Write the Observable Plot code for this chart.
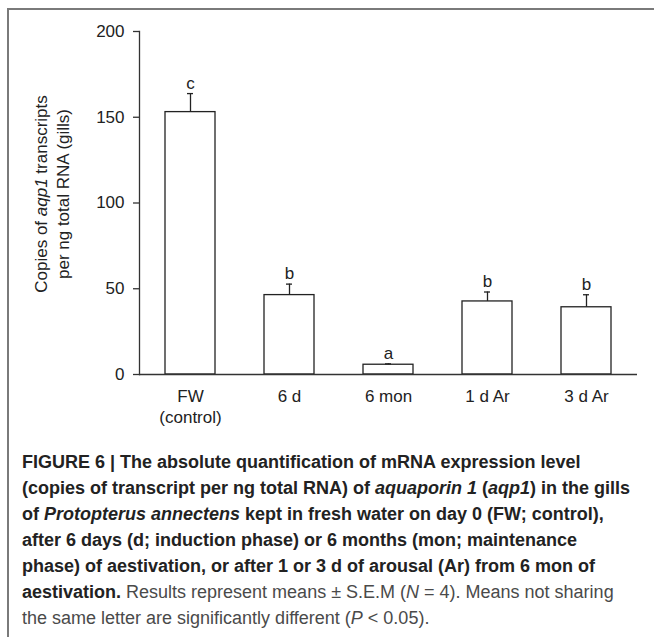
<!DOCTYPE html>
<html>
<head>
<meta charset="utf-8">
<script src="https://cdn.jsdelivr.net/npm/d3@7"></script>
<script src="https://cdn.jsdelivr.net/npm/@observablehq/plot@0.6"></script>
<style>
  html, body { margin: 0; padding: 0; background: #fff; }
  body { width: 654px; height: 637px; position: relative; overflow: hidden; font-family: "Liberation Sans", Arial, Helvetica, sans-serif; }
  #border { position: absolute; left: 7px; top: 8px; width: 660px; height: 640px; border-left: 2px solid #7a7a7a; border-top: 2px solid #7a7a7a; box-sizing: border-box; }
  #chart { position: absolute; left: 0; top: 0; }
  #caption { position: absolute; left: 22px; top: 449px; font-size: 18px; line-height: 26px; color: #4a4a4a; }
  #caption div { white-space: nowrap; }
  #caption b { color: #222; }
</style>
</head>
<body>
<div id="border"></div>
<div id="chart"></div>
<div id="caption">
<div><b>FIGURE 6 | The absolute quantification of mRNA expression level</b></div>
<div><b>(copies of transcript per ng total RNA) of <i>aquaporin 1</i> (<i>aqp1</i>) in the gills</b></div>
<div><b>of <i>Protopterus annectens</i> kept in fresh water on day 0 (FW; control),</b></div>
<div><b>after 6 days (d; induction phase) or 6 months (mon; maintenance</b></div>
<div><b>phase) of aestivation, or after 1 or 3 d of arousal (Ar) from 6 mon of</b></div>
<div><b>aestivation.</b> Results represent means ± S.E.M (<i>N</i> = 4). Means not sharing</div>
<div>the same letter are significantly different (<i>P</i> &lt; 0.05).</div>
</div>
<script>
const groups = ["FW\n(control)", "6 d", "6 mon", "1 d Ar", "3 d Ar"];
const means = [153, 46.3, 5.7, 42.6, 39.2];
const sems = [10.8, 6.4, 0.5, 5.5, 7.3];
const letters = ["c", "b", "a", "b", "b"];
const yTicks = [0, 50, 100, 150, 200];

const data = groups.map((g, i) => ({g, m: means[i], e: sems[i], l: letters[i]}));

const chart = Plot.plot({
  width: 654,
  height: 440,
  marginLeft: 139,
  marginRight: 17,
  marginTop: 31,
  marginBottom: 66,
  style: {fontFamily: "'Liberation Sans', Arial, sans-serif", color: "#222", background: "transparent"},
  x: {type: "band", domain: groups, paddingInner: 0.5, paddingOuter: 0.25, align: 0.5},
  y: {domain: [0, 200]},
  marks: [
    Plot.barY(data, {x: "g", y: "m", fill: "white", stroke: "#222", strokeWidth: 1.3}),
    Plot.ruleX(data, {x: "g", y1: "m", y2: d => d.m + d.e, stroke: "#222", strokeWidth: 1.3}),
    Plot.tickY(data, {x: "g", y: d => d.m + d.e, insetLeft: 22, insetRight: 22, stroke: "#222", strokeWidth: 1.3}),
    Plot.text(data, {x: "g", y: d => d.m + d.e, text: "l", dy: -5, lineAnchor: "bottom", fontSize: 17, fill: "#222"}),
    Plot.ruleY([0], {stroke: "#333", strokeWidth: 1.3}),
    Plot.frame({anchor: "left", stroke: "#333", strokeWidth: 1.3}),
    Plot.axisY({ticks: yTicks, tickSize: 6, tickPadding: 9, fontSize: 17, label: null, stroke: "#333", strokeWidth: 1.3}),
    Plot.axisX({tickSize: 0, tickPadding: 12, fontSize: 17, lineHeight: 1.25, label: null, tickFormat: d => d})
  ]
});
document.getElementById("chart").appendChild(chart);

// rotated two-line y-axis label with italic gene name
const svg = d3.select(chart);
const lab = svg.append("text")
  .attr("transform", "translate(0,194) rotate(-90)")
  .attr("text-anchor", "middle")
  .attr("font-size", 17)
  .attr("fill", "#222")
  .attr("font-family", "'Liberation Sans', Arial, sans-serif");
const l1 = lab.append("tspan").attr("x", 0).attr("y", 46.7);
l1.append("tspan").text("Copies of ");
l1.append("tspan").attr("font-style", "italic").text("aqp1");
l1.append("tspan").text(" transcripts");
lab.append("tspan").attr("x", 0).attr("y", 69.3).text("per ng total RNA (gills)");
</script>
</body>
</html>
